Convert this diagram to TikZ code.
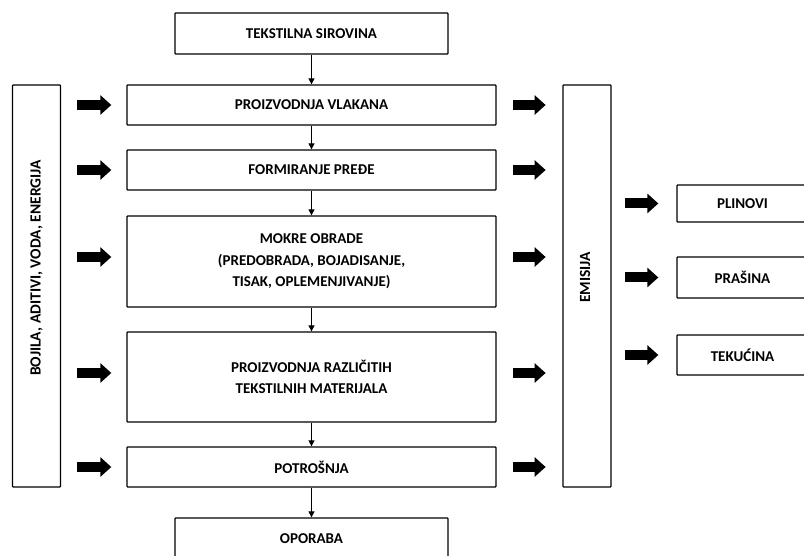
\documentclass[tikz,border=0pt]{standalone}
\usepackage{fontspec}
\setmainfont{Carlito}
\usetikzlibrary{arrows.meta,positioning,calc}

\tikzset{
  box/.style={draw, line width=1.3pt, rounded corners=0.8pt, inner sep=0pt,
    minimum width=369pt, minimum height=40pt, align=center,
    font=\bfseries\fontsize{15}{21.5}\selectfont},
  endbox/.style={box, minimum width=273pt, minimum height=41pt},
  sidebox/.style={box, minimum width=131pt, minimum height=38pt},
  bar/.style={box, minimum width=48pt, minimum height=402pt},
  bartext/.style={rotate=90, font=\bfseries\fontsize{15.5}{18}\selectfont},
  link/.style={line width=1pt, -{Triangle[length=6pt,width=6pt]}},
  fatarrow/.style={line width=10pt, -{Triangle[length=11pt,width=19pt]}}
}

\begin{document}
\begin{tikzpicture}[x=1pt, y=-1pt]
\useasboundingbox (0,0) rectangle (804,556);

% main column
\node[endbox] (sirovina) at (311.5,33.5) {TEKSTILNA SIROVINA};
\node[box] (vlakana) at (311.5,105) {PROIZVODNJA VLAKANA};
\node[box] (preda) at (311.5,170) {FORMIRANJE PREĐE};
\node[box, minimum height=91pt] (mokre) at (311.5,261.5)
  {MOKRE OBRADE\\(PREDOBRADA, BOJADISANJE,\\TISAK, OPLEMENJIVANJE)};
\node[box, minimum height=90pt] (materijali) at (311.5,377)
  {PROIZVODNJA RAZLIČITIH\\TEKSTILNIH MATERIJALA};
\node[box] (potrosnja) at (311.5,467) {POTROŠNJA};
\node[endbox] (oporaba) at (311.5,538.5) {OPORABA};

\draw[link] (sirovina) -- (vlakana);
\draw[link] (vlakana) -- (preda);
\draw[link] (preda) -- (mokre);
\draw[link] (mokre) -- (materijali);
\draw[link] (materijali) -- (potrosnja);
\draw[link] (potrosnja) -- (oporaba);

% side bars
\node[bar] (ulaz) at (36.5,286) {};
\node[bartext] (ulaztekst) at (36.5,268) {BOJILA, ADITIVI, VODA, ENERGIJA};
\node[bar] (emisija) at (587,286) {};
\node[bartext] (emisijatekst) at (585,277.5) {EMISIJA};

% emissions
\node[sidebox, minimum height=37pt] (plinovi) at (742.5,203.5) {PLINOVI};
\node[sidebox, minimum height=41pt] (prasina) at (742.5,277.5) {PRAŠINA};
\node[sidebox, minimum height=40pt] (tekucina) at (742.5,355) {TEKUĆINA};

% inputs
\draw[fatarrow] ([xshift=-49pt]vlakana.west) -- ([xshift=-15pt]vlakana.west);
\draw[fatarrow] ([xshift=-49pt]preda.west) -- ([xshift=-15pt]preda.west);
\draw[fatarrow] ([xshift=-49pt,yshift=4.5pt]mokre.west) -- ([xshift=-15pt,yshift=4.5pt]mokre.west);
\draw[fatarrow] ([xshift=-49pt,yshift=4pt]materijali.west) -- ([xshift=-15pt,yshift=4pt]materijali.west);
\draw[fatarrow] ([xshift=-49pt]potrosnja.west) -- ([xshift=-15pt]potrosnja.west);

% outputs
\draw[fatarrow] ([xshift=16pt]vlakana.east) -- ([xshift=49pt]vlakana.east);
\draw[fatarrow] ([xshift=16pt]preda.east) -- ([xshift=49pt]preda.east);
\draw[fatarrow] ([xshift=16pt,yshift=4.5pt]mokre.east) -- ([xshift=49pt,yshift=4.5pt]mokre.east);
\draw[fatarrow] ([xshift=16pt,yshift=4pt]materijali.east) -- ([xshift=49pt,yshift=4pt]materijali.east);
\draw[fatarrow] ([xshift=16pt]potrosnja.east) -- ([xshift=49pt]potrosnja.east);

\draw[fatarrow] ([xshift=-51pt]plinovi.west) -- ([xshift=-18pt]plinovi.west);
\draw[fatarrow] ([xshift=-51pt]prasina.west) -- ([xshift=-18pt]prasina.west);
\draw[fatarrow] ([xshift=-51pt]tekucina.west) -- ([xshift=-18pt]tekucina.west);

\end{tikzpicture}
\end{document}
